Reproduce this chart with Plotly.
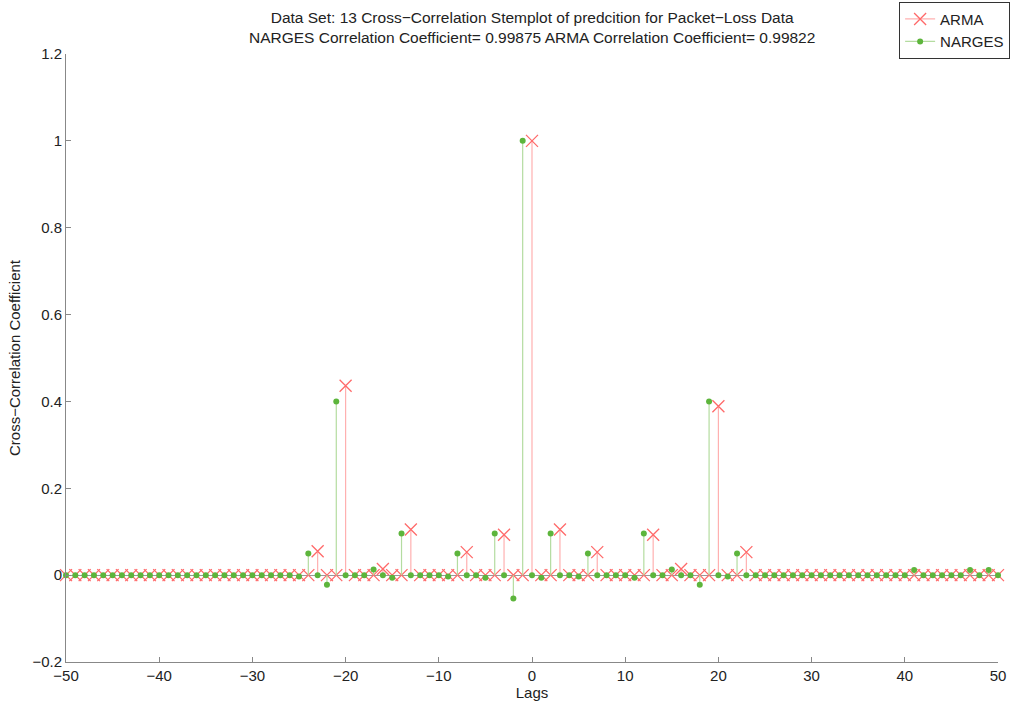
import plotly.graph_objects as go

lags = list(range(-50, 51))

arma = (
    [0, 0, 0, 0, 0, 0, 0, 0, 0, 0]            # -50..-41
    + [0, 0, 0, 0, 0, 0, 0, 0, 0, 0]          # -40..-31
    + [0, 0, 0, 0, 0, 0, 0, 0.055, 0, 0]      # -30..-21
    + [0.436, 0, 0, 0, 0.014, 0, 0, 0.105, 0, 0]  # -20..-11
    + [0, 0, 0, 0.053, 0, 0, 0, 0.093, 0, 0]  # -10..-1
    + [1.0, 0, 0, 0.105, 0, 0, 0, 0.053, 0, 0]  # 0..9
    + [0, 0, 0, 0.093, 0, 0, 0.014, 0, 0, 0]  # 10..19
    + [0.389, 0, 0, 0.053, 0, 0, 0, 0, 0, 0]  # 20..29
    + [0, 0, 0, 0, 0, 0, 0, 0, 0, 0]          # 30..39
    + [0, 0, 0, 0, 0, 0, 0, 0, 0, 0, 0]       # 40..50
)

narges = (
    [0, 0, 0, 0, 0, 0, 0, 0, 0, 0]
    + [0, 0, 0, 0, 0, 0, 0, 0, 0, 0]
    + [0, 0, 0, 0, 0, -0.003, 0.05, 0, -0.022, 0.40]
    + [0, 0, 0, 0.013, 0, -0.006, 0.096, 0, 0, 0]
    + [0, -0.003, 0.05, 0, 0, -0.006, 0.096, 0, -0.054, 1.0]
    + [0, -0.006, 0.096, 0, 0, -0.003, 0.05, 0, 0, 0]
    + [0, -0.006, 0.096, 0, 0, 0.013, 0, 0, -0.022, 0.40]
    + [0, -0.003, 0.05, 0, 0, 0, 0, 0, 0, 0]
    + [0, 0, 0, 0, 0, 0, 0, 0, 0, 0]
    + [0, 0.012, 0, 0, 0, 0, 0, 0.012, 0, 0.012, 0]
)

title_lines = [
    "Data Set: 13 Cross\u2212Correlation Stemplot of predcition for Packet\u2212Loss Data",
    "NARGES Correlation Coefficient= 0.99875 ARMA Correlation Coefficient= 0.99822",
]

RED_LINE = "#ffb0b0"
RED_MARK = "#ff6a6a"
GREEN_LINE = "#b4dca0"
GREEN_MARK = "#5db53c"
FONT = "Liberation Sans, Arial, sans-serif"


def stem_xy(xs, ys):
    sx, sy = [], []
    for x, y in zip(xs, ys):
        sx += [x, x, None]
        sy += [0, y, None]
    return sx, sy


fig = go.Figure()

for name, vals, lc, mc, sym, size, lw in [
    ("ARMA", arma, RED_LINE, RED_MARK, "x-thin", 12, 1.3),
    ("NARGES", narges, GREEN_LINE, GREEN_MARK, "circle", 6, 0),
]:
    sx, sy = stem_xy(lags, vals)
    fig.add_trace(go.Scatter(x=sx, y=sy, mode="lines", line=dict(color=lc, width=1.2),
                             showlegend=False, hoverinfo="skip", legendgroup=name))
    fig.add_trace(go.Scatter(x=lags, y=vals, mode="markers", showlegend=False, legendgroup=name,
                             cliponaxis=False,
                             marker=dict(symbol=sym, size=size, color=mc,
                                         line=dict(color=mc, width=lw))))
    fig.add_trace(go.Scatter(x=[None], y=[None], mode="lines+markers", name=name, legendgroup=name,
                             line=dict(color=lc, width=1.2),
                             marker=dict(symbol=sym, size=size, color=mc,
                                         line=dict(color=mc, width=lw))))

fig.add_annotation(text="<br>".join(title_lines), x=0.5, xref="paper", xanchor="center",
                   y=1.078, yref="paper", yanchor="top", showarrow=False,
                   font=dict(size=15.5, family=FONT, color="#222"))

fig.update_layout(
    width=1013, height=702,
    margin=dict(l=66, r=15, t=54, b=40, autoexpand=False),
    paper_bgcolor="white", plot_bgcolor="white",
    font=dict(family=FONT, size=15, color="#222"),
    legend=dict(x=1.013, y=1.086, xanchor="right", yanchor="top",
                bordercolor="#333", borderwidth=1, bgcolor="white",
                font=dict(size=15, family=FONT), tracegroupgap=0, itemwidth=30),
    xaxis=dict(range=[-50, 50], dtick=10, tick0=0, showgrid=False, zeroline=False,
               showline=True, linecolor="#888", linewidth=1, ticks="inside", ticklen=5,
               tickcolor="#888", title=dict(text="Lags", standoff=2, font=dict(size=15))),
    yaxis=dict(range=[-0.2, 1.2], dtick=0.2, tick0=0, showgrid=False,
               zeroline=True, zerolinecolor="#999", zerolinewidth=1.2,
               showline=True, linecolor="#888", linewidth=1, ticks="inside", ticklen=5,
               tickcolor="#888",
               title=dict(text="Cross\u2212Correlation Coefficient", standoff=8, font=dict(size=15))),
)

fig.write_html("out.html")
